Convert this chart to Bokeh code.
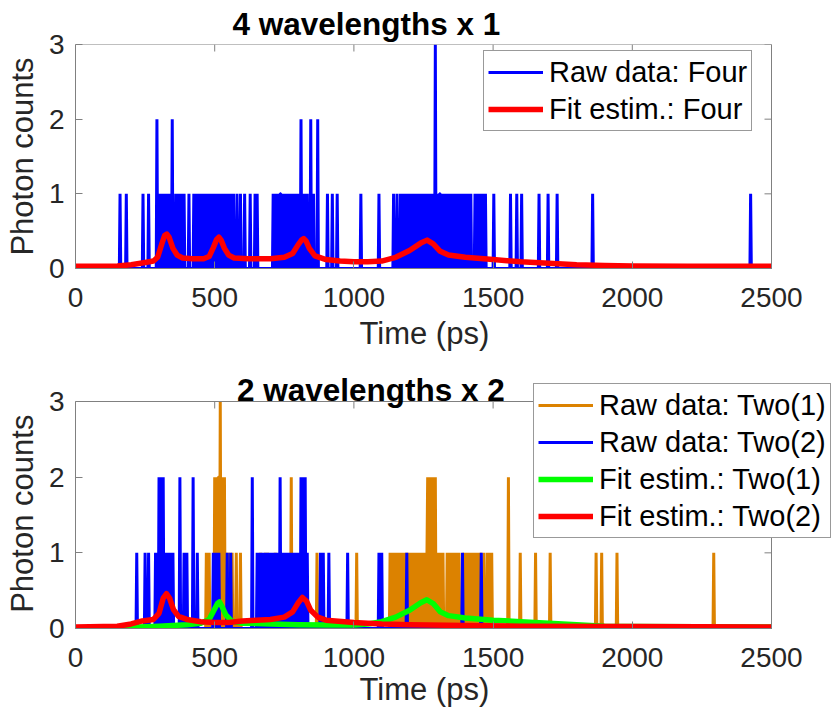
import numpy as np
from bokeh.plotting import figure
from bokeh.layouts import column
from bokeh.models import Legend, LegendItem, FixedTicker, Label
from bokeh.embed import file_html
from bokeh.resources import INLINE

# ---------------- data ----------------
BIN = 2.5  # ps per time bin
x_ticks = [0, 500, 1000, 1500, 2000, 2500]
y_ticks = [0, 1, 2, 3]

titles = ["4 wavelengths x 1", "2 wavelengths x 2"]
x_label = "Time (ps)"
y_label = "Photon counts"

# Top panel raw data "Four": times (ps) of bins with 1, 2, 3 photons
four_c1 = [159, 182, 242, 263, 303, 311, 320, 327, 332, 339, 359, 371, 379, 389, 407, 425, 433,
           437, 442, 447, 452, 458, 463, 467, 472, 478, 483, 487, 492, 498, 503, 507, 512, 517,
           522, 527, 532, 537, 543, 550, 555, 562, 568, 580, 592, 608, 628, 644, 652,
           709, 714, 719, 724, 729, 734, 738, 742, 747, 754, 760, 766, 770, 774, 779, 784, 790,
           795, 800, 805, 815, 820, 826, 832, 856,
           904, 922, 940, 1024, 1089,
           1143, 1155, 1167, 1175, 1182, 1190, 1197, 1205, 1212, 1220, 1227, 1235, 1240, 1245,
           1250, 1255, 1260, 1265, 1270, 1275, 1280, 1285, 1297, 1302, 1307, 1311, 1317, 1323,
           1329, 1335, 1341, 1347, 1353, 1359, 1365, 1372, 1377, 1382, 1387, 1392, 1397, 1403,
           1408, 1413, 1419, 1436, 1442, 1448, 1454, 1460, 1466, 1472, 1502, 1562, 1586, 1602,
           1664, 1697, 1730, 1858, 2424]
four_c2 = [293, 347, 810, 844, 870]
four_c3 = [1292]

# Bottom panel raw data "Two(1)"
two1_c1 = [470, 479, 508, 530, 540, 545, 550, 562, 577, 592, 664, 682, 691, 718, 868, 1011,
           1131, 1137, 1143, 1149, 1155, 1161, 1167, 1173, 1179, 1185, 1191, 1197, 1203, 1209,
           1215, 1221, 1227, 1233, 1239, 1245, 1251, 1257, 1262, 1298, 1303, 1309, 1315, 1320,
           1335, 1341, 1347, 1353, 1359, 1365, 1371, 1377, 1395, 1401, 1407, 1413, 1419, 1425,
           1431, 1437, 1443, 1449, 1455, 1467, 1479, 1490, 1496, 1598, 1652, 1706, 1871, 1891,
           1945, 2292]
two1_c2 = [499, 504, 512, 516, 525, 535, 776, 1266, 1272, 1278, 1285, 1292, 1556]
two1_c3 = [521]

# Bottom panel raw data "Two(2)"
two2_c1 = [219, 251, 263, 287, 293, 320, 325, 330, 335, 340, 345, 350, 391, 401, 437, 494, 503,
           509, 515, 545, 557, 652, 662, 667, 672, 677, 682, 687, 692, 697, 702, 707, 712, 718,
           723, 728, 739, 744, 749, 754, 759, 764, 769, 774, 779, 784, 789, 794, 799, 804, 832,
           880, 889, 910, 978, 1089, 1101, 1191, 1389, 1458]
two2_c2 = [300, 305, 310, 315, 375, 422, 634, 734, 810, 815, 820, 826]
two2_c3 = []

# Fit estimates (time ps, photon counts)
fit_four_t = [0, 100, 150, 200, 250, 280, 295, 310, 320, 328, 336, 350, 365, 385, 420, 460, 480,
              495, 507, 515, 523, 535, 550, 570, 620, 700, 750, 780, 800, 812, 820, 828, 840, 860,
              900, 950, 1000, 1050, 1100, 1150, 1200, 1240, 1263, 1285, 1310, 1340, 1400, 1500,
              1600, 1700, 1800, 1900, 2000, 2200, 2500]
fit_four_y = [0.03, 0.03, 0.035, 0.05, 0.08, 0.10, 0.15, 0.33, 0.44, 0.46, 0.42, 0.27, 0.18, 0.14,
              0.13, 0.13, 0.16, 0.28, 0.39, 0.42, 0.38, 0.27, 0.18, 0.14, 0.13, 0.13, 0.15, 0.20,
              0.32, 0.38, 0.40, 0.37, 0.27, 0.17, 0.12, 0.10, 0.09, 0.09, 0.10, 0.15, 0.24, 0.34,
              0.38, 0.33, 0.23, 0.18, 0.15, 0.12, 0.09, 0.07, 0.05, 0.04, 0.035, 0.03, 0.03]

fit_two1_t = [0, 200, 300, 400, 450, 480, 500, 510, 517, 525, 540, 560, 600, 700, 800, 900, 1000,
              1050, 1100, 1150, 1200, 1240, 1262, 1285, 1310, 1340, 1400, 1500, 1600, 1700, 1800,
              1900, 2000, 2500]
fit_two1_y = [0.01, 0.015, 0.03, 0.05, 0.07, 0.12, 0.26, 0.33, 0.35, 0.30, 0.18, 0.10, 0.07, 0.06,
              0.05, 0.045, 0.045, 0.06, 0.09, 0.15, 0.24, 0.34, 0.38, 0.33, 0.22, 0.17, 0.14, 0.11,
              0.09, 0.07, 0.05, 0.03, 0.025, 0.02]

fit_two2_t = [0, 150, 200, 240, 280, 300, 315, 327, 338, 352, 370, 400, 450, 500, 550, 600, 650,
              700, 750, 780, 800, 815, 830, 845, 870, 900, 1000, 1100, 1200, 1400, 1600, 2000, 2500]
fit_two2_y = [0.02, 0.03, 0.06, 0.10, 0.12, 0.20, 0.40, 0.46, 0.40, 0.25, 0.16, 0.12, 0.09, 0.08,
              0.08, 0.10, 0.11, 0.12, 0.15, 0.22, 0.34, 0.41, 0.36, 0.24, 0.15, 0.11, 0.08, 0.06,
              0.05, 0.04, 0.03, 0.025, 0.02]

# ---------------- helpers ----------------
t_grid = np.arange(0, x_ticks[-1] + BIN / 2, BIN)
X0, X1 = x_ticks[0], x_ticks[-1]
Y0, Y1 = y_ticks[0], y_ticks[-1]

# Pixel geometry of the axes boxes in the original (frames are widened so that the
# legends may overhang the axes box, as MATLAB lets them)
AX_L, AX_R = 75, 771
CANVAS_W, CANVAS_H = 833, 717
X_EXT = X1 * (CANVAS_W - AX_L) / (AX_R - AX_L)
H1 = 364                      # height of the upper canvas
AX1_T, AX1_B = 42, 268        # upper axes box
AX2_T, AX2_B = 401, 628       # lower axes box
NB = "\u00a0"                 # keeps the axis titles centred on the axes box


def histogram(c1, c2, c3):
    y = np.zeros_like(t_grid)
    for cnt, times in ((1, c1), (2, c2), (3, c3)):
        for t in times:
            y[int(round(t / BIN))] = cnt
    return y


FONT = "Liberation Sans"
AX_COLOR = "#808080"
TXT_COLOR = "#262626"
BLUE = "#0000FF"
RED = "#FF0000"
GREEN = "#00FF00"
ORANGE = "#DC8200"
RAW_W = 3
FIT_W = 5.5
TICK_LEN = 7


def style_axes(p, xl_standoff, y_pad):
    p.xgrid.visible = False
    p.ygrid.visible = False
    p.background_fill_color = "white"
    p.border_fill_color = "white"
    p.outline_line_color = None
    for ax in (p.xaxis[0], p.yaxis[0]):
        ax.axis_line_color = AX_COLOR
        ax.major_tick_line_color = AX_COLOR
        ax.major_tick_in = TICK_LEN
        ax.major_tick_out = 0
        ax.minor_tick_line_color = None
        ax.major_label_text_font = FONT
        ax.major_label_text_font_size = "28px"
        ax.major_label_text_color = TXT_COLOR
        ax.axis_label_text_font = FONT
        ax.axis_label_text_font_size = "31px"
        ax.axis_label_text_font_style = "normal"
        ax.axis_label_text_color = TXT_COLOR
    p.xaxis[0].ticker = FixedTicker(ticks=x_ticks)
    p.yaxis[0].ticker = FixedTicker(ticks=y_ticks)
    p.xaxis[0].bounds = (X0, X1)
    p.yaxis[0].bounds = (Y0, Y1)
    p.xaxis[0].axis_label = x_label + NB * 7
    p.yaxis[0].axis_label = y_label + NB * y_pad
    p.xaxis[0].major_label_standoff = 19
    p.xaxis[0].axis_label_standoff = xl_standoff
    p.yaxis[0].major_label_standoff = 11
    p.yaxis[0].axis_label_standoff = 6


def mirror_box(p):
    # MATLAB "box on": top/right border and mirrored inward ticks
    p.segment(x0=[X0, X1], y0=[Y1, Y0], x1=[X1, X1], y1=[Y1, Y1],
              line_color=AX_COLOR, line_width=1)
    p.ray(x=x_ticks, y=[Y1] * len(x_ticks), length=TICK_LEN, length_units="screen",
          angle=-np.pi / 2, line_color=AX_COLOR, line_width=1)
    p.ray(x=[X1] * len(y_ticks), y=y_ticks, length=TICK_LEN, length_units="screen",
          angle=np.pi, line_color=AX_COLOR, line_width=1)


def style_legend(lg):
    lg.label_text_font = FONT
    lg.label_text_font_size = "29px"
    lg.label_text_color = "black"
    lg.glyph_width = 55
    lg.glyph_height = 34
    lg.label_height = 34
    lg.label_standoff = 6
    lg.spacing = 3
    lg.padding = 4
    lg.margin = 0
    lg.border_line_color = "#333333"
    lg.border_line_width = 1
    lg.background_fill_color = "white"
    lg.background_fill_alpha = 1.0


# ---------------- top panel ----------------
p1 = figure(width=CANVAS_W, height=H1, x_range=(X0, X_EXT), y_range=(Y0, Y1),
            output_backend="svg", toolbar_location=None,
            min_border_left=AX_L, min_border_right=0, min_border_top=AX1_T,
            min_border_bottom=H1 - AX1_B)
style_axes(p1, 6, 0)
p1.title.text = titles[0]
p1.title.text_font = FONT
p1.title.text_font_size = "31.5px"
p1.title.text_font_style = "bold"
p1.title.text_color = "black"
p1.title.align = "left"
p1.title.offset = 157
p1.title.standoff = 6

r_four = p1.line(t_grid, histogram(four_c1, four_c2, four_c3), color=BLUE, line_width=RAW_W)
r_fit_four = p1.line(fit_four_t, fit_four_y, color=RED, line_width=FIT_W, line_join="round")
mirror_box(p1)
lg1 = Legend(items=[LegendItem(label="Raw data: Four", renderers=[r_four]),
                    LegendItem(label="Fit estim.: Four", renderers=[r_fit_four])],
             location=(408, 137))
style_legend(lg1)
p1.add_layout(lg1, "center")

# ---------------- bottom panel ----------------
H2 = CANVAS_H - H1
p2 = figure(width=CANVAS_W, height=H2, x_range=(X0, X_EXT),
            y_range=(Y0, Y1 * (AX2_B - H1) / (AX2_B - AX2_T)),
            output_backend="svg", toolbar_location=None,
            min_border_left=AX_L, min_border_right=0, min_border_top=0,
            min_border_bottom=CANVAS_H - AX2_B)
style_axes(p2, 2, 4)

r_two1 = p2.line(t_grid, histogram(two1_c1, two1_c2, two1_c3), color=ORANGE, line_width=RAW_W)
r_two2 = p2.line(t_grid, histogram(two2_c1, two2_c2, two2_c3), color=BLUE, line_width=RAW_W)
r_fit1 = p2.line(fit_two1_t, fit_two1_y, color=GREEN, line_width=FIT_W, line_join="round")
r_fit2 = p2.line(fit_two2_t, fit_two2_y, color=RED, line_width=FIT_W, line_join="round")
mirror_box(p2)

p2.add_layout(Label(x=1061, y=Y1, y_offset=12, text=titles[1], text_font=FONT,
                    text_font_size="31.5px", text_font_style="bold", text_color="black",
                    text_align="center", text_baseline="alphabetic"))

lg2 = Legend(items=[LegendItem(label="Raw data: Two(1)", renderers=[r_two1]),
                    LegendItem(label="Raw data: Two(2)", renderers=[r_two2]),
                    LegendItem(label="Fit estim.: Two(1)", renderers=[r_fit1]),
                    LegendItem(label="Fit estim.: Two(2)", renderers=[r_fit2])],
             location=(458, 90))
style_legend(lg2)
p2.add_layout(lg2, "center")

layout = column(p1, p2)
open("out.html", "w").write(file_html(layout, INLINE))
